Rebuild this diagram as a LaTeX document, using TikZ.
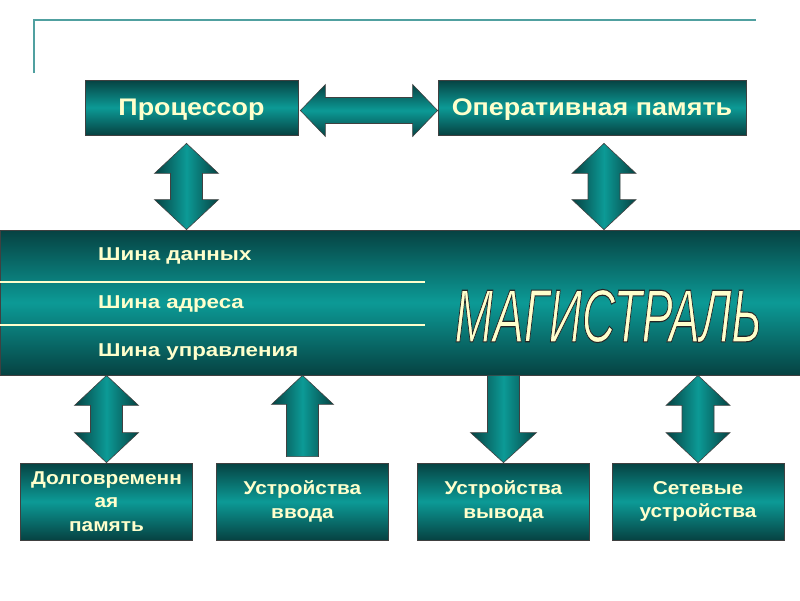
\documentclass[tikz,border=0pt]{standalone}
\usepackage{fontspec}
\setmainfont{Liberation Sans}
\newfontfamily\widefont[FakeStretch=1.2]{Liberation Sans}
\newfontfamily\midfont[FakeStretch=1.12]{Liberation Sans}
\usetikzlibrary{positioning,calc}

\definecolor{tealdark}{RGB}{6,66,66}
\definecolor{teallight}{RGB}{12,154,150}
\definecolor{cream}{RGB}{255,255,204}
\definecolor{frameline}{RGB}{80,160,160}

% block arrows between named points
\newcommand{\vdarrow}[2]{%
  \path[arrowv] let \p1=(#1), \p2=(#2) in
    (\x1,\y1) -- (\x1+32,\y1-30) -- (\x1+16,\y1-30) -- (\x1+16,\y2+30) -- (\x1+32,\y2+30)
    -- (\x1,\y2) -- (\x1-32,\y2+30) -- (\x1-16,\y2+30) -- (\x1-16,\y1-30) -- (\x1-32,\y1-30) -- cycle;}
\newcommand{\uparrowblk}[2]{%
  \path[arrowv] let \p1=(#1), \p2=(#2) in
    (\x1,\y1) -- (\x1+31,\y1-29) -- (\x1+16,\y1-29) -- (\x1+16,\y2)
    -- (\x1-16,\y2) -- (\x1-16,\y1-29) -- (\x1-31,\y1-29) -- cycle;}
\newcommand{\downarrowblk}[2]{%
  \path[arrowv] let \p1=(#1), \p2=(#2) in
    (\x1-16,\y1) -- (\x1+16,\y1) -- (\x1+16,\y2+30) -- (\x1+33,\y2+30)
    -- (\x1,\y2) -- (\x1-33,\y2+30) -- (\x1-16,\y2+30) -- cycle;}
\newcommand{\hdarrow}[2]{%
  \path[arrowh] let \p1=(#1), \p2=(#2) in
    (\x1,\y1) -- (\x1+25,\y1+26) -- (\x1+25,\y1+13) -- (\x2-25,\y1+13) -- (\x2-25,\y1+26)
    -- (\x2,\y1) -- (\x2-25,\y1-26) -- (\x2-25,\y1-13) -- (\x1+25,\y1-13) -- (\x1+25,\y1-26) -- cycle;}
% outlined letters
\newcommand{\outlined}[1]{\special{pdf:literal direct 2 Tr 1.1 w 0.15 0.15 0.15 RG}#1\special{pdf:literal direct 0 Tr}}

\begin{document}
\begin{tikzpicture}[x=1pt,y=1pt]
  \tikzstyle{box}=[draw=black!75,line width=0.8,rectangle,inner sep=0,
    top color=tealdark,bottom color=tealdark,middle color=teallight,
    text=cream,font=\bfseries,align=center]
  \tikzstyle{topbox}=[box,minimum height=55,text depth=0pt,font=\fontsize{24}{28}\midfont\bfseries\selectfont]
  \tikzstyle{devbox}=[box,minimum width=172,minimum height=77,font=\fontsize{18.6}{23.2}\midfont\bfseries\selectfont]
  \tikzstyle{bustext}=[anchor=base west,text=cream,inner sep=0,font=\fontsize{18.6}{20}\widefont\bfseries\selectfont]
  \tikzstyle{busline}=[cream,line width=1.8]
  \tikzstyle{arrowv}=[draw=black!75,line width=0.6,left color=tealdark,right color=tealdark,middle color=teallight]
  \tikzstyle{arrowh}=[draw=black!75,line width=0.6,top color=tealdark,bottom color=tealdark,middle color=teallight]
  \tikzstyle{bigword}=[inner sep=0,font=\fontsize{75}{75}\itshape\selectfont]

  \useasboundingbox (0,0) rectangle (800,-600);
  \draw[frameline,line width=2.5] (34,-73) -- (34,-20) -- (756,-20);

  {
    \node[topbox,minimum width=213] (cpu) at (191.5,-107.5) {Процессор};
    \node[topbox,minimum width=308] (ram) at (592,-107.5) {Оперативная память};

    \node[box,minimum width=800,minimum height=145] (bus) at (400,-302.5) {};
    \draw[busline] ($(bus.west)+(0,20.5)$) -- +(425,0);
    \draw[busline] ($(bus.west)+(0,-22.5)$) -- +(425,0);
    \node[bustext] (sd) at (98,-260.7) {Шина данных};
    \node[bustext] (sa) at (98,-308.7) {Шина адреса};
    \node[bustext] (su) at (98,-356.7) {Шина управления};

    \node[bigword,text=cream,xscale=0.615,transform shape] (mag) at (608,-316) {\outlined{МАГИСТРАЛЬ}};

    \node[devbox] (dev1) at (106.5,-501.5) {Долговременн\\ая\\память};
    \node[devbox] (dev2) at (302.5,-501.5) {Устройства\\ввода};
    \node[devbox] (dev3) at (503.5,-501.5) {Устройства\\вывода};
    \node[devbox] (dev4) at (698,-501.5) {Сетевые\\устройства};

    \coordinate (p1) at ($(cpu.south)+(-5,-8)$);
    \coordinate (p2) at ($(ram.south)+(12,-8)$);
    \hdarrow{$(cpu.east)+(2,-3)$}{$(ram.west)+(0,-3)$}
    \vdarrow{p1}{p1 |- bus.north}
    \vdarrow{p2}{p2 |- bus.north}

    \vdarrow{bus.south -| dev1.north}{dev1.north}
    \uparrowblk{bus.south -| dev2.north}{$(dev2.north)+(0,6)$}
    \downarrowblk{bus.south -| dev3.north}{dev3.north}
    \vdarrow{bus.south -| dev4.north}{dev4.north}
  }
\end{tikzpicture}
\end{document}
